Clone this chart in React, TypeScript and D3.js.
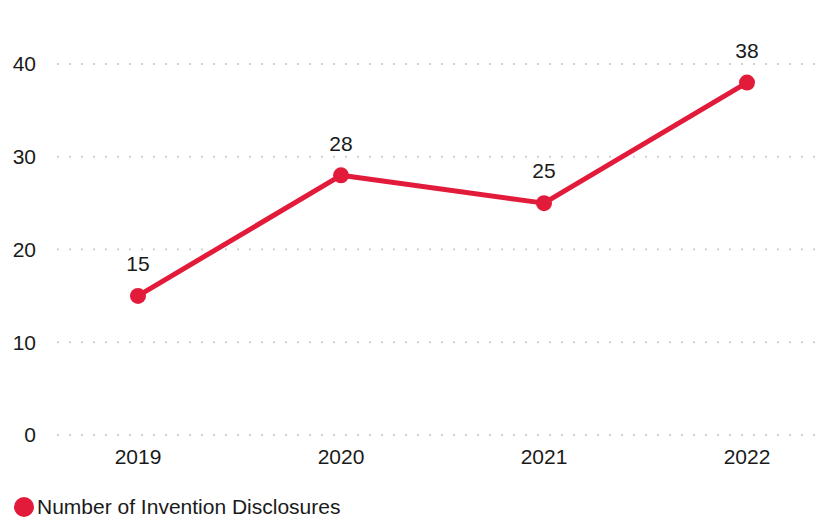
import React from "react";
import * as d3 from "d3";

const years = ["2019", "2020", "2021", "2022"];
const disclosures = [15, 28, 25, 38];
const yTicks = [0, 10, 20, 30, 40];
const seriesName = "Number of Invention Disclosures";

const W = 825;
const H = 521;
const RED = "#e31b3b";
const FONT = "Arial, 'Liberation Sans', Helvetica, sans-serif";

export default function App() {
  const x = d3.scalePoint<string>().domain(years).range([138, 747]);
  const y = d3.scaleLinear().domain([0, 40]).range([435, 64]);
  const line = d3
    .line<number>()
    .x((_, i) => x(years[i]) as number)
    .y((d) => y(d));

  return (
    <svg
      width={W}
      height={H}
      style={{ position: "absolute", left: 0, top: 0, background: "#fff" }}
    >
      {yTicks.map((t) => (
        <g key={t}>
          <line
            x1={57}
            x2={820}
            y1={y(t)}
            y2={y(t)}
            stroke="#d0d0d0"
            strokeWidth={2}
            strokeDasharray="2 10"
          />
          <text
            x={36}
            y={y(t)}
            dy="0.35em"
            textAnchor="end"
            fontFamily={FONT}
            fontSize={21}
            fill="#1a1a1a"
          >
            {t}
          </text>
        </g>
      ))}
      {years.map((yr) => (
        <text
          key={yr}
          x={x(yr)}
          y={457}
          dy="0.35em"
          textAnchor="middle"
          fontFamily={FONT}
          fontSize={21}
          fill="#1a1a1a"
        >
          {yr}
        </text>
      ))}
      <path
        d={line(disclosures) || ""}
        fill="none"
        stroke={RED}
        strokeWidth={5}
        strokeLinejoin="round"
      />
      {disclosures.map((v, i) => (
        <g key={i}>
          <circle cx={x(years[i])} cy={y(v)} r={8} fill={RED} />
          <text
            x={x(years[i])}
            y={y(v) - 32}
            dy="0.35em"
            textAnchor="middle"
            fontFamily={FONT}
            fontSize={21}
            fill="#1a1a1a"
          >
            {v}
          </text>
        </g>
      ))}
      <circle cx={24} cy={507} r={10} fill={RED} />
      <text
        x={37}
        y={507}
        dy="0.35em"
        fontFamily={FONT}
        fontSize={21}
        fill="#1a1a1a"
      >
        {seriesName}
      </text>
    </svg>
  );
}
